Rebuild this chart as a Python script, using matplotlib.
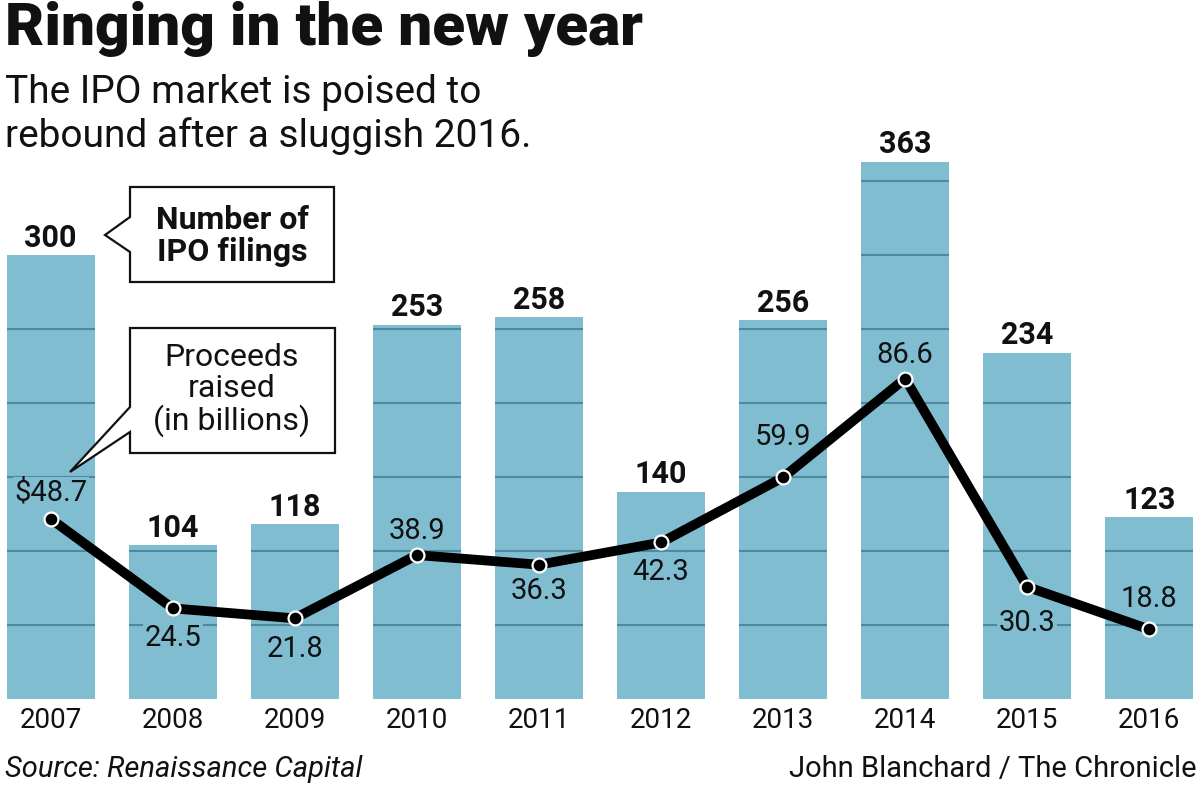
import matplotlib
matplotlib.use('Agg')
import matplotlib.pyplot as plt
from matplotlib.patches import Polygon

# ── 데이터 ──
years = ['2007', '2008', '2009', '2010', '2011', '2012', '2013', '2014', '2015', '2016']
filings = [300, 104, 118, 253, 258, 140, 256, 363, 234, 123]
proceeds = [48.7, 24.5, 21.8, 38.9, 36.3, 42.3, 59.9, 86.6, 30.3, 18.8]
proceeds_labels = ['$48.7', '24.5', '21.8', '38.9', '36.3', '42.3', '59.9', '86.6', '30.3', '18.8']

# 라벨 위치 (포인트 단위, 위쪽 +)
label_dy = [19, -21, -22, 17, -19, -21, 29, 17, -26, 22]

W, H = 1200, 787
BAR = '#80bdd1'
GRID = '#4d8aa0'
INK = '#111111'
FONT = 'Roboto'

fig = plt.figure(figsize=(W / 100, H / 100), dpi=100, facecolor='white')
y_top = 380
ax = fig.add_axes([0.0, (H - 699) / H, 1.0, y_top * 1.48 / H])
ax.set_xlim(-0.415, 9.415)
ax.set_ylim(0, y_top)

x = list(range(len(years)))
bw = 0.72
ax.bar(x, filings, width=bw, color=BAR, zorder=1)

# 막대 안쪽에만 가로 눈금선
for xi, h in zip(x, filings):
    lv = 50
    while lv < h:
        ax.hlines(lv, xi - bw / 2, xi + bw / 2, colors=GRID, linewidth=1.5, zorder=2)
        lv += 50

# 막대 위 숫자
for xi, h in zip(x, filings):
    ax.annotate(str(h), (xi, h), xytext=(0, 6), textcoords='offset points',
                ha='center', va='baseline', fontsize=22, fontweight='bold',
                family=FONT, color=INK)

ax.set_xticks(x)
ax.set_xticklabels(years, fontsize=20, family=FONT, color=INK)
ax.tick_params(axis='x', length=0, pad=6)
ax.set_yticks([])
for s in ax.spines.values():
    s.set_visible(False)

# ── 조달액 (보조축) ──
ax2 = ax.twinx()
ax2.set_ylim(0, y_top / 2.5)
ax2.set_yticks([])
for s in ax2.spines.values():
    s.set_visible(False)
ax2.plot(x, proceeds, color='black', linewidth=7, solid_joinstyle='miter', zorder=5,
         marker='o', markersize=10, markerfacecolor='black',
         markeredgecolor='white', markeredgewidth=1.6)
for xi, v, lab, dy in zip(x, proceeds, proceeds_labels, label_dy):
    ax2.annotate(lab, (xi, v), xytext=(0, dy), textcoords='offset points',
                 ha='center', va='center', fontsize=21, family=FONT, color=INK,
                 bbox=dict(boxstyle='square,pad=0.05', fc=BAR, ec='none'), zorder=4)


def px(pts):
    return [(a / W, 1 - b / H) for a, b in pts]


# ── 말풍선 ──
box1 = [(130, 187), (334, 187), (334, 282), (130, 282), (130, 252), (105, 235), (130, 217)]
box2 = [(130, 328), (335, 328), (335, 453), (130, 453), (130, 432), (70, 472), (130, 407)]
for pts in (box1, box2):
    fig.patches.append(Polygon(px(pts), closed=True, transform=fig.transFigure,
                               facecolor='white', edgecolor=INK, linewidth=1.6, zorder=10))

fig.text(232 / W, 1 - 236 / H, 'Number of\nIPO filings', ha='center', va='center',
         fontsize=23, fontweight='bold', family=FONT, color=INK, linespacing=1.05, zorder=11)
fig.text(232 / W, 1 - 390 / H, 'Proceeds\nraised\n(in billions)', ha='center', va='center',
         fontsize=23, family=FONT, color=INK, linespacing=1.05, zorder=11)

# ── 제목 ──
fig.text(5 / W, 1 - 45 / H, 'Ringing in the new year', ha='left', va='baseline',
         fontsize=43.5, fontweight='black', family=FONT, color=INK)
fig.text(5 / W, 1 - 103 / H, 'The IPO market is poised to', ha='left', va='baseline',
         fontsize=28, family=FONT, color=INK)
fig.text(5 / W, 1 - 147 / H, 'rebound after a sluggish 2016.', ha='left', va='baseline',
         fontsize=28, family=FONT, color=INK)

fig.text(5 / W, 1 - 777 / H, 'Source: Renaissance Capital', ha='left', va='baseline',
         fontsize=21, style='italic', family=FONT, color=INK)
fig.text(1197 / W, 1 - 777 / H, 'John Blanchard / The Chronicle', ha='right', va='baseline',
         fontsize=21, family=FONT, color=INK)

plt.savefig('out.png', dpi=100, facecolor='white')
